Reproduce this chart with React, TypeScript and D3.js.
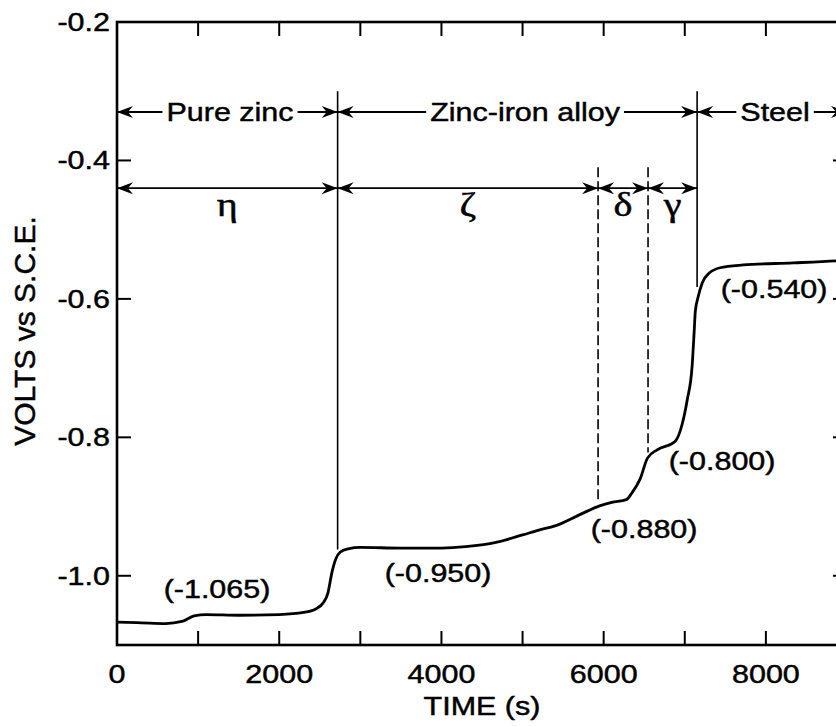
import React from 'react';
import * as d3 from 'd3';

// ---- data ----
const timeS = [0, 300, 600, 800, 950, 1100, 1500, 2000, 2300, 2450, 2550, 2600, 2650, 2700, 2750, 2850, 3000, 3500, 4000, 4300, 4700, 5000, 5200, 5400, 5700, 5950, 6100, 6280, 6350, 6450, 6540, 6660, 6880, 6970, 7030, 7090, 7115, 7130, 7165, 7215, 7310, 7435, 7720, 8335, 8865, 9000];
const volts = [-1.067, -1.068, -1.069, -1.066, -1.058, -1.056, -1.057, -1.056, -1.053, -1.048, -1.038, -1.025, -0.995, -0.975, -0.966, -0.961, -0.959, -0.960, -0.960, -0.958, -0.951, -0.941, -0.934, -0.928, -0.912, -0.899, -0.894, -0.890, -0.880, -0.860, -0.830, -0.818, -0.806, -0.780, -0.746, -0.698, -0.649, -0.618, -0.597, -0.577, -0.562, -0.555, -0.551, -0.548, -0.545, -0.544];

const xMajorTicks = [0, 2000, 4000, 6000, 8000];
const xTickLabels = ['0', '2000', '4000', '6000', '8000'];
const xMinorTicks = [1000, 3000, 5000, 7000];
const yTicks = [-0.2, -0.4, -0.6, -0.8, -1.0];
const yTickLabels = ['-0.2', '-0.4', '-0.6', '-0.8', '-1.0'];

const regionBounds = [0, 2720, 7152, 9000];
const regionNames = ['Pure zinc', 'Zinc-iron alloy', 'Steel'];
const regionLabelT = [1393, 5031, 8113];

const phaseBounds = [0, 2720, 5931, 6547, 7152];
const phaseNames = ['\u03B7', '\u03B6', '\u03B4', '\u03B3'];

const solidLineT = [2720, 7152];
const solidLineBottom = [-0.962, -0.583];
const dashedLineT = [5931, 6547];
const dashedLineBottom = [-0.89, -0.822];

const noteLabels = ['(-1.065)', '(-0.950)', '(-0.880)', '(-0.800)', '(-0.540)'];
const noteT = [1233, 3958, 6498, 7460, 8101];
const noteV = [-1.032, -1.0087, -0.945, -0.847, -0.5986];

// ---- layout / style ----
const W = 836;
const H = 727;
const SX = 1.22;
const FONT = '"Liberation Sans", Arial, Helvetica, sans-serif';
const SERIF = '"Liberation Serif", "DejaVu Serif", serif';
const FS = 25;

let ctx: CanvasRenderingContext2D | null = null;
function measure(s: string, font: string): number {
  if (!ctx) ctx = document.createElement('canvas').getContext('2d');
  if (!ctx) return s.length * 14;
  ctx.font = font;
  return ctx.measureText(s).width;
}

function HText({ x, y, anchor = 'middle', size = FS, family = FONT, children }: any) {
  return (
    <text
      transform={`translate(${x},${y}) scale(${SX},1)`}
      textAnchor={anchor}
      fontSize={size}
      fontFamily={family}
      fill="#000"
      stroke="#000"
      strokeWidth={0.45}
    >
      {children}
    </text>
  );
}

const AL = 16;
const AW = 12;
function Arrow({ x, y, dir }: { x: number; y: number; dir: number }) {
  return (
    <path
      d={`M0,0 L${-AL},${-AW / 2} L${-AL * 0.68},0 L${-AL},${AW / 2} Z`}
      transform={`translate(${x},${y}) scale(${dir},1)`}
      fill="#000"
    />
  );
}

export default function App() {
  const x = d3.scaleLinear().domain([0, 9000]).range([117, 847]);
  const y = d3.scaleLinear().domain([-1.1, -0.2]).range([645, 22]);
  const [x0, x1] = x.range();
  const [yb, yt] = y.range();
  const tick = 14;

  const path = d3
    .line<number>()
    .x((_, i) => x(timeS[i]))
    .y((d) => y(d))
    .curve(d3.curveMonotoneX)(volts) as string;

  const row1 = y(-0.33);
  const row2 = y(-0.44);
  const gap = 4;

  return (
    <svg
      width={W}
      height={H}
      style={{ position: 'absolute', left: 0, top: 0, background: '#fff' }}
    >
      <rect x={0} y={0} width={W} height={H} fill="#fff" />

      {/* frame */}
      <rect x={x0} y={yt} width={x1 - x0} height={yb - yt} fill="none" stroke="#000" strokeWidth={2.6} />

      {/* x ticks bottom and top */}
      {[...xMajorTicks, ...xMinorTicks].map((t, i) => (
        <g key={'xt' + i}>
          <line x1={x(t)} x2={x(t)} y1={yb} y2={yb - tick} stroke="#000" strokeWidth={2} />
          <line x1={x(t)} x2={x(t)} y1={yt} y2={yt + tick} stroke="#000" strokeWidth={2} />
        </g>
      ))}
      {xMajorTicks.map((t, i) => (
        <HText key={'xl' + i} x={x(t)} y={683}>
          {xTickLabels[i]}
        </HText>
      ))}

      {/* y ticks left and right */}
      {yTicks.map((v, i) => (
        <g key={'yt' + i}>
          <line x1={x0} x2={x0 + tick} y1={y(v)} y2={y(v)} stroke="#000" strokeWidth={2} />
          <line x1={x1} x2={x1 - tick} y1={y(v)} y2={y(v)} stroke="#000" strokeWidth={2} />
          <HText x={110} y={y(v) + 9} anchor="end">
            {yTickLabels[i]}
          </HText>
        </g>
      ))}

      {/* axis titles */}
      <HText x={(x0 + x1) / 2} y={715}>TIME (s)</HText>
      <text
        transform={`translate(35,331) rotate(-90)`}
        textAnchor="middle"
        fontSize={30}
        fontFamily={FONT}
        fill="#000"
        stroke="#000"
        strokeWidth={0.45}
      >
        VOLTS vs S.C.E.
      </text>

      {/* boundary lines */}
      {solidLineT.map((t, i) => (
        <line key={'sl' + i} x1={x(t)} x2={x(t)} y1={y(-0.30)} y2={y(solidLineBottom[i])} stroke="#000" strokeWidth={1.6} />
      ))}
      {dashedLineT.map((t, i) => (
        <line key={'dl' + i} x1={x(t)} x2={x(t)} y1={y(-0.41)} y2={y(dashedLineBottom[i])} stroke="#000" strokeWidth={1.6} strokeDasharray="10,4" />
      ))}

      {/* row 1: regions */}
      {regionNames.map((name, i) => {
        const a = x(regionBounds[i]);
        const b = x(regionBounds[i + 1]);
        const c = x(regionLabelT[i]);
        const w = measure(name, `${FS}px ${FONT}`) * SX;
        return (
          <g key={'r' + i}>
            <line x1={a} x2={c - w / 2 - gap} y1={row1} y2={row1} stroke="#000" strokeWidth={1.8} />
            <line x1={c + w / 2 + gap} x2={b} y1={row1} y2={row1} stroke="#000" strokeWidth={1.8} />
            <Arrow x={a} y={row1} dir={-1} />
            <Arrow x={b} y={row1} dir={1} />
            <HText x={c} y={row1 + 9}>{name}</HText>
          </g>
        );
      })}

      {/* row 2: phases */}
      {phaseNames.map((name, i) => {
        const a = x(phaseBounds[i]);
        const b = x(phaseBounds[i + 1]);
        return (
          <g key={'p' + i}>
            <line x1={a} x2={b} y1={row2} y2={row2} stroke="#000" strokeWidth={1.8} />
            <Arrow x={a} y={row2} dir={-1} />
            <Arrow x={b} y={row2} dir={1} />
            <HText x={(a + b) / 2} y={216} size={33} family={SERIF}>{name}</HText>
          </g>
        );
      })}

      {/* curve */}
      <path d={path} fill="none" stroke="#000" strokeWidth={2.8} strokeLinejoin="round" />

      {/* value notes */}
      {noteLabels.map((s, i) => (
        <HText key={'n' + i} x={x(noteT[i])} y={y(noteV[i])}>{s}</HText>
      ))}
    </svg>
  );
}
